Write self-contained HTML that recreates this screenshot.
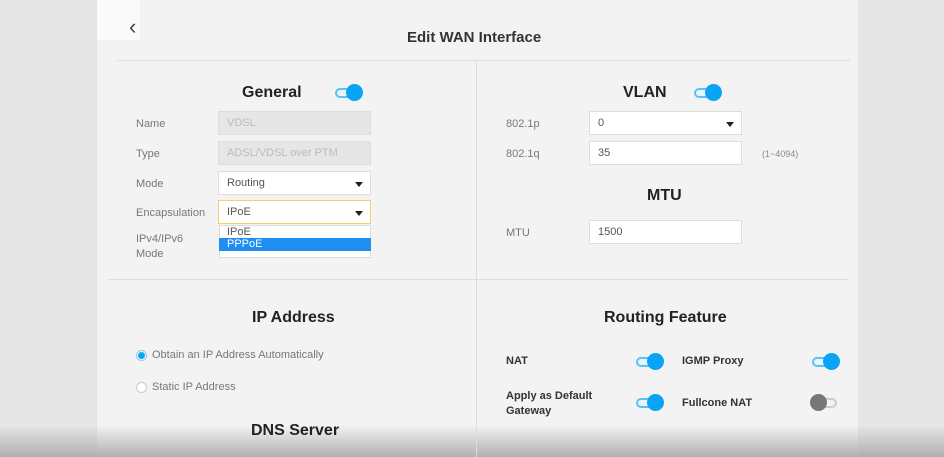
<!DOCTYPE html>
<html><head><style>
*{margin:0;padding:0;box-sizing:border-box}
body{width:944px;height:457px;overflow:hidden;background:#e6e6e6;font-family:"Liberation Sans",sans-serif;position:relative}
.a{position:absolute}
.panel{left:97px;top:0;width:761px;height:457px;background:#f3f3f3}
.h{font-weight:bold;color:#222;font-size:16px}
.l{font-size:11px;color:#777}
.in{background:#fff;border:1px solid #ddd;font-size:11px;color:#555;padding-left:8px;line-height:22px;height:24px}
.dis{background:#e6e6e6;color:#bbb;border:1px solid #ddd}
.tri{position:absolute;right:7px;top:10px;width:0;height:0;border-left:4px solid transparent;border-right:4px solid transparent;border-top:5px solid #222}
.tg{width:28px;height:18px}
.tg .t{position:absolute;left:0;top:4px;width:27px;height:10px;border-radius:5px;border:2px solid #5cc0f5;background:#e8f5fd}
.tg .k{position:absolute;left:11px;top:0;width:17px;height:17px;border-radius:50%;background:#0aa4f5}
.tg.off .t{border-color:#ccc;background:#f3f3f3}
.tg.off .k{left:0;background:#777}
.b{font-size:11px;font-weight:bold;color:#333}
</style></head><body>
<div class="a panel"></div>
<div class="a" style="left:97px;top:0;width:43px;height:40px;background:#fafafa"></div>
<div class="a" style="left:0;top:425px;width:944px;height:32px;background:linear-gradient(#f3f3f300,#b0b0b0)"></div>
<div class="a" style="left:129px;top:14px;font-size:22px;color:#444;font-weight:300">&#8249;</div>
<div class="a h" style="left:407px;top:29px;font-size:15px;color:#333">Edit WAN Interface</div>
<div class="a" style="left:117px;top:60px;width:733px;height:1px;background:#ddd"></div>
<div class="a" style="left:476px;top:60px;width:1px;height:397px;background:#ddd"></div>
<div class="a" style="left:108px;top:279px;width:740px;height:1px;background:#ddd"></div>

<div class="a h" style="left:242px;top:84px">General</div>
<div class="a tg" style="left:335px;top:84px"><div class="t"></div><div class="k"></div></div>
<div class="a l" style="left:136px;top:118px">Name</div>
<div class="a in dis" style="left:218px;top:111px;width:153px">VDSL</div>
<div class="a l" style="left:136px;top:148px">Type</div>
<div class="a in dis" style="left:218px;top:141px;width:153px">ADSL/VDSL over PTM</div>
<div class="a l" style="left:136px;top:178px">Mode</div>
<div class="a in" style="left:218px;top:171px;width:153px">Routing<div class="tri"></div></div>
<div class="a l" style="left:136px;top:207px">Encapsulation</div>
<div class="a in" style="left:218px;top:200px;width:153px;border:1px solid #f0d070">IPoE<div class="tri"></div></div>
<div class="a l" style="left:136px;top:232px;line-height:15px">IPv4/IPv6<br>Mode</div>
<div class="a" style="left:219px;top:225px;width:152px;height:33px;background:#fff;border:1px solid #ddd"></div>
<div class="a" style="left:227px;top:226px;font-size:11px;color:#555">IPoE</div>
<div class="a" style="left:219px;top:238px;width:152px;height:13px;background:#1e8ef0;color:#fff;font-size:11px;padding-left:8px;line-height:13px">PPPoE</div>

<div class="a h" style="left:623px;top:84px">VLAN</div>
<div class="a tg" style="left:694px;top:84px"><div class="t"></div><div class="k"></div></div>
<div class="a l" style="left:506px;top:118px">802.1p</div>
<div class="a in" style="left:589px;top:111px;width:153px">0<div class="tri"></div></div>
<div class="a l" style="left:506px;top:148px">802.1q</div>
<div class="a in" style="left:589px;top:141px;width:153px">35</div>
<div class="a" style="left:762px;top:149px;font-size:9px;color:#888">(1~4094)</div>
<div class="a h" style="left:647px;top:187px">MTU</div>
<div class="a l" style="left:506px;top:227px">MTU</div>
<div class="a in" style="left:589px;top:220px;width:153px">1500</div>

<div class="a h" style="left:252px;top:309px">IP Address</div>
<div class="a" style="left:136px;top:350px;width:11px;height:11px;border-radius:50%;border:1px solid #9cd;background:radial-gradient(#0aa4f5 3px,#fff 4px)"></div>
<div class="a l" style="left:152px;top:349px">Obtain an IP Address Automatically</div>
<div class="a" style="left:136px;top:382px;width:11px;height:11px;border-radius:50%;border:1px solid #ccc;background:#fff"></div>
<div class="a l" style="left:152px;top:381px">Static IP Address</div>
<div class="a h" style="left:251px;top:422px">DNS Server</div>

<div class="a h" style="left:604px;top:309px">Routing Feature</div>
<div class="a b" style="left:506px;top:355px">NAT</div>
<div class="a tg" style="left:636px;top:353px"><div class="t"></div><div class="k"></div></div>
<div class="a b" style="left:682px;top:355px">IGMP Proxy</div>
<div class="a tg" style="left:812px;top:353px"><div class="t"></div><div class="k"></div></div>
<div class="a b" style="left:506px;top:389px;line-height:15px">Apply as Default<br>Gateway</div>
<div class="a tg" style="left:636px;top:394px"><div class="t"></div><div class="k"></div></div>
<div class="a b" style="left:682px;top:397px">Fullcone NAT</div>
<div class="a tg off" style="left:810px;top:394px"><div class="t"></div><div class="k"></div></div>
</body></html>
